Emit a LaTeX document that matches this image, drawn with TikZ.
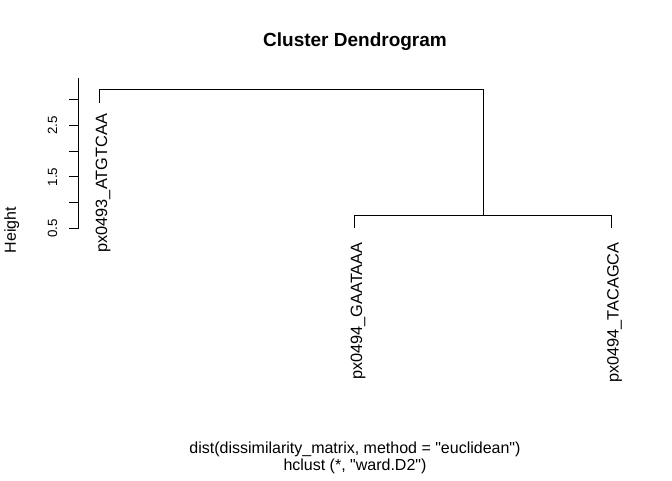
\documentclass[tikz,border=0pt]{standalone}
\usepackage{fontspec}
\setmainfont{Liberation Sans}
\usetikzlibrary{calc}

\tikzset{every picture/.style={line width=0.75pt}}
\tikzset{
  leaflabel/.style={rotate=90,anchor=base east,inner sep=0pt,font=\fontsize{12.25}{14}\selectfont},
  ticklabel/.style={rotate=90,anchor=base,inner sep=0pt,font=\fontsize{10}{12}\selectfont},
  branch/.style={draw=black,line width=0.75pt}
}

\begin{document}
\begin{tikzpicture}[x=0.75pt,y=0.75pt,yscale=-1,xscale=1]
\useasboundingbox (0,0) rectangle (672,480); %diagram is 672 x 480

%Leaves and merges
\coordinate (l1) at (99.5,102.5);
\coordinate (l2) at (354.5,228);
\coordinate (l3) at (611,228);
\coordinate (m1) at (483,215);
\coordinate (m2) at (291.25,89.5);

%Straight Lines (lower merge)
\draw [branch]   (m1) -| (l2) ;
\draw [branch]   (m1) -| (l3) ;
%Straight Lines (top merge)
\draw [branch]   (m2) -| (l1) ;
\draw [branch]   (m2) -| (m1) ;

%Straight Lines (axis)
\coordinate (a0) at (78,228.5);
\coordinate (a1) at (78,78);
\draw    (a0) -- (a1) ;
\draw    (a0) -- ++(-9,0) ;
\draw    (78,202.7) -- ++(-9,0) ;
\draw    (78,176.9) -- ++(-9,0) ;
\draw    (78,151.1) -- ++(-9,0) ;
\draw    (78,125.3) -- ++(-9,0) ;
\draw    (78,99.5) -- ++(-9,0) ;

% Text Node
\draw (57,228.5) node [ticklabel] (t05) {0.5};
% Text Node
\draw (57,176.9) node [ticklabel] (t15) {1.5};
% Text Node
\draw (57,125.3) node [ticklabel] (t25) {2.5};
% Text Node
\draw (16,230) node [rotate=90,anchor=base,inner sep=0pt,font=\fontsize{12}{14}\selectfont] (ylab) {Height};

% Text Node
\draw ($(l1)+(7.5,11)$) node [leaflabel] (n1) {px0493\_ATGTCAA};
% Text Node
\draw ($(l2)+(7.5,14)$) node [leaflabel] (n2) {px0494\_GAATAAA};
% Text Node
\draw ($(l3)+(7.5,14)$) node [leaflabel] (n3) {px0494\_TACAGCA};

% Text Node
\draw (355,46) node [anchor=base,inner sep=0pt,font=\fontsize{14.25}{17}\bfseries] (title) {Cluster Dendrogram};
% Text Node
\draw (355,453) node [anchor=base,inner sep=0pt,font=\fontsize{12}{14}\selectfont] (sub1) {dist(dissimilarity\_matrix, method = \textquotedbl euclidean\textquotedbl)};
% Text Node
\draw (355,470) node [anchor=base,inner sep=0pt,font=\fontsize{12}{14}\selectfont] (sub2) {hclust (*, \textquotedbl ward.D2\textquotedbl)};

\end{tikzpicture}
\end{document}
